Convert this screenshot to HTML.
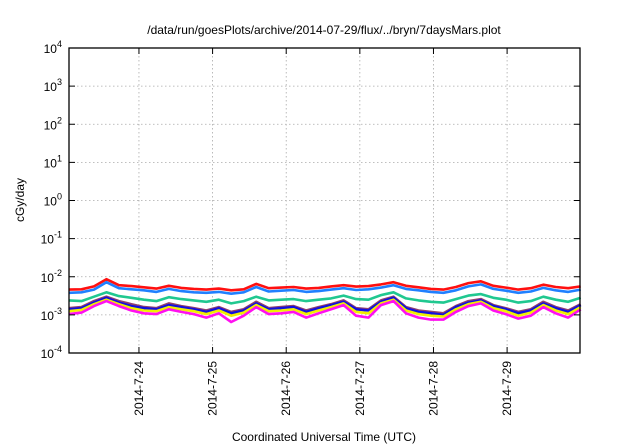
<!DOCTYPE html>
<html><head><meta charset="utf-8"><style>
html,body{margin:0;padding:0;background:#fff;}
svg{display:block;font-family:"Liberation Sans",sans-serif;}
</style></head><body>
<svg id="chart" width="640" height="448" viewBox="0 0 640 448" xmlns="http://www.w3.org/2000/svg">
<text x="324" y="34" font-size="12" text-anchor="middle" fill="#000">/data/run/goesPlots/archive/2014-07-29/flux/../bryn/7daysMars.plot</text>
<g id="grid"></g>
<g id="series"></g>
<rect x="69" y="48" width="511" height="305" fill="none" stroke="#000" stroke-width="1.3"/>
<g id="axes"></g>
<text transform="translate(24,200) rotate(-90)" font-size="12" text-anchor="middle">cGy/day</text>
<text x="324" y="441" font-size="12" text-anchor="middle">Coordinated Universal Time (UTC)</text>
</svg>
<script>
const dayTicks = [24,25,26,27,28,29];
const dayLabels = ["2014-7-24","2014-7-25","2014-7-26","2014-7-27","2014-7-28","2014-7-29"];
const yExps = [-4,-3,-2,-1,0,1,2,3,4];
const startDay = 23.05, stepDay = 0.1695;
const red =     [4.6,4.7,5.6,8.6,6.0,5.7,5.3,4.9,5.8,5.1,4.8,4.6,4.9,4.4,4.7,6.5,5.0,5.2,5.4,4.9,5.1,5.6,6.0,5.5,5.7,6.3,7.2,5.8,5.3,4.8,4.6,5.4,6.8,7.6,5.8,5.2,4.6,5.0,6.2,5.4,5.0,5.6];
const blue =    [3.8,3.9,4.6,7.2,5.0,4.7,4.4,4.0,4.8,4.2,3.9,3.8,4.0,3.6,3.9,5.4,4.1,4.3,4.5,4.0,4.2,4.6,5.0,4.5,4.7,5.2,6.0,4.8,4.4,4.0,3.8,4.4,5.6,6.3,4.8,4.3,3.8,4.1,5.1,4.4,4.0,4.6];
const green =   [2.4,2.3,3.0,3.9,3.1,2.8,2.5,2.3,2.9,2.6,2.4,2.2,2.5,2.0,2.3,3.0,2.4,2.5,2.6,2.3,2.5,2.7,3.2,2.6,2.5,3.3,3.9,2.7,2.4,2.2,2.1,2.6,3.2,3.5,2.8,2.5,2.1,2.3,3.0,2.5,2.2,2.8];
const purple =  [1.5,1.6,2.3,3.0,2.3,1.9,1.6,1.5,2.0,1.7,1.5,1.3,1.6,1.2,1.4,2.2,1.5,1.6,1.7,1.3,1.6,1.9,2.4,1.5,1.4,2.4,3.0,1.6,1.3,1.2,1.1,1.7,2.3,2.6,1.8,1.5,1.2,1.4,2.2,1.6,1.3,1.9];
const navy =    [1.4,1.5,2.1,2.8,2.1,1.7,1.5,1.4,1.8,1.6,1.4,1.2,1.5,1.1,1.3,2.0,1.4,1.5,1.6,1.2,1.5,1.8,2.2,1.4,1.3,2.2,2.8,1.5,1.2,1.1,1.0,1.6,2.1,2.4,1.7,1.4,1.1,1.3,2.0,1.5,1.2,1.8];
const yellow =  [1.25,1.35,1.9,2.5,1.9,1.5,1.3,1.25,1.6,1.4,1.25,1.05,1.3,0.95,1.15,1.8,1.25,1.3,1.4,1.05,1.3,1.6,2.0,1.2,1.1,2.0,2.5,1.3,1.05,0.95,0.9,1.4,1.9,2.2,1.5,1.25,0.95,1.15,1.8,1.3,1.05,1.6];
const magenta = [1.05,1.15,1.7,2.3,1.7,1.3,1.1,1.05,1.4,1.2,1.05,0.85,1.1,0.65,0.95,1.6,1.05,1.1,1.2,0.85,1.1,1.4,1.8,0.95,0.85,1.8,2.3,1.1,0.85,0.75,0.75,1.2,1.7,2.0,1.3,1.05,0.8,0.95,1.6,1.1,0.85,1.4];
const X0=69,X1=580,Y0=48,Y1=353,D0=23.05,D1=29.99;
function xs(d){return X0+(d-D0)/(D1-D0)*(X1-X0);}
function ys(v){return Y1-(Math.log10(v)+4)/8*(Y1-Y0);}
const NS="http://www.w3.org/2000/svg";
const grid=document.getElementById('grid'),axes=document.getElementById('axes'),ser=document.getElementById('series');
function mk(tag,attrs,parent){const e=document.createElementNS(NS,tag);for(const k in attrs)e.setAttribute(k,attrs[k]);parent.appendChild(e);return e;}
yExps.forEach(p=>{
  const y=ys(Math.pow(10,p));
  if(p>-4&&p<4){const g=mk('line',{x1:X0,x2:X1,y1:y,y2:y,stroke:'#aaa','stroke-width':0.8,'stroke-dasharray':'1.5,2.5'},grid);
  
  }
  const t1=mk('line',{x1:X0,x2:X0+6,y1:y,y2:y,stroke:'#000'},axes);
  
  
  const t2=mk('line',{x1:X1-6,x2:X1,y1:y,y2:y,stroke:'#000'},axes);
  
  
  const tx=mk('text',{x:X0-7,y:y+5,'font-size':12,'text-anchor':'end'},axes);
  
  
  tx.appendChild(document.createTextNode('10'));
  const sp=mk('tspan',{dy:-6,'font-size':9},tx);sp.textContent=String(p);
});
dayTicks.forEach((d,i)=>{
  const x=xs(d);
  const g=mk('line',{x1:x,x2:x,y1:Y0,y2:Y1,stroke:'#aaa','stroke-width':0.8,'stroke-dasharray':'1.5,2.5'},grid);
  
  
  const t=mk('line',{x1:x,x2:x,y1:Y1-6,y2:Y1,stroke:'#000'},axes);
  
  
  const t2=mk('line',{x1:x,x2:x,y1:Y0,y2:Y0+6,stroke:'#000'},axes);
  
  
  const tx=mk('text',{'font-size':12,'text-anchor':'end',transform:`translate(${x+4},${Y1+8}) rotate(-90)`},axes);
  
  
  tx.textContent=dayLabels[i];
});
const seriesList=[[red,'#ff1010','red'],[blue,'#2080ff','blue'],[green,'#20c890','green'],[purple,'#904070','purple'],[navy,'#1010e0','navy'],[yellow,'#f0f000','yellow'],[magenta,'#ff10f0','magenta']];
seriesList.forEach(([arr,col,nm])=>{
  const pts=arr.map((v,i)=>xs(startDay+i*stepDay).toFixed(1)+','+ys(v*1e-3).toFixed(1)).join(' ');
  const pl=mk('polyline',{points:pts,fill:'none',stroke:col,'stroke-width':2.6,'stroke-linejoin':'round'},ser);
  
  
});
</script>
</body></html>
